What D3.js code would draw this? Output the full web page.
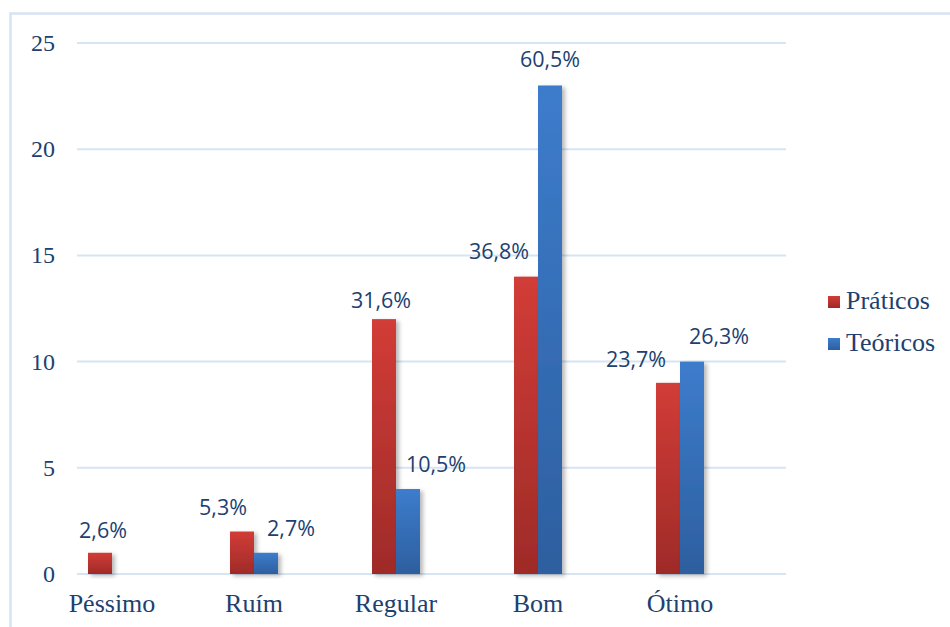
<!DOCTYPE html>
<html>
<head>
<meta charset="utf-8">
<script src="https://cdn.jsdelivr.net/npm/d3@7"></script>
</head>
<body style="margin:0">
<svg id="chart" width="950" height="627" font-family="Liberation Serif"></svg>
<script>
var categories = ["Péssimo", "Ruím", "Regular", "Bom", "Ótimo"];
var seriesNames = ["Práticos", "Teóricos"];
var praticos = [1, 2, 12, 14, 9];
var teoricos = [0, 1, 4, 23, 10];
var praticosLabels = ["2,6%", "5,3%", "31,6%", "36,8%", "23,7%"];
var teoricosLabels = [null, "2,7%", "10,5%", "60,5%", "26,3%"];
var yTicks = [0, 5, 10, 15, 20, 25];

// hand-placed label nudges (the labels were dragged around in the original)
var praticosNudge = [3, -19, -3, -27, -32];
var teoricosNudge = [0, 25, 28, 0, 27];
var praticosGap = [15, 17, 11, 18, 16];
var teoricosGap = [0, 17, 17, 18, 18];

var textColor = "#213f6f";
var gridColor = "#d6e4f4";

var svg = d3.select("#chart");

var defs = svg.append("defs");
function grad(id, top, bottom) {
  var g = defs.append("linearGradient").attr("id", id)
      .attr("x1", 0).attr("y1", 0).attr("x2", 0).attr("y2", 1);
  g.append("stop").attr("offset", "0%").attr("stop-color", top);
  g.append("stop").attr("offset", "100%").attr("stop-color", bottom);
}
grad("gRed", "#d23c37", "#9e2b28");
grad("gBlue", "#3d7ccc", "#2d5f9f");

var shadow = defs.append("filter").attr("id", "shadow")
    .attr("x", "-30%").attr("y", "-10%").attr("width", "160%").attr("height", "130%");
shadow.append("feDropShadow").attr("dx", 3).attr("dy", 2)
    .attr("stdDeviation", 2).attr("flood-color", "#000").attr("flood-opacity", 0.28);

// outer frame (right / bottom edges fall outside the picture)
svg.append("rect")
    .attr("x", 10.5).attr("y", 13.5)
    .attr("width", 1000).attr("height", 700)
    .attr("fill", "none").attr("stroke", gridColor).attr("stroke-width", 2.5);

var y = d3.scaleLinear().domain([0, 25]).range([574, 43]);
var x0 = d3.scaleBand().domain(categories).range([41, 751]);
var x1 = d3.scaleBand().domain(seriesNames).range([-24, 24]);

// gridlines
svg.append("g").selectAll("line")
  .data(yTicks).join("line")
    .attr("x1", 77).attr("x2", 786)
    .attr("y1", function(d) { return y(d); })
    .attr("y2", function(d) { return y(d); })
    .attr("stroke", gridColor).attr("stroke-width", 2);

// y tick labels
svg.selectAll("text.tick")
  .data(yTicks).join("text")
    .attr("class", "tick")
    .attr("x", 55)
    .attr("y", function(d) { return y(d) + 8; })
    .attr("text-anchor", "end")
    .attr("font-family", "Liberation Serif")
    .attr("font-size", 24)
    .attr("fill", textColor)
    .text(function(d) { return d; });

// category labels
svg.selectAll("text.cat")
  .data(categories).join("text")
    .attr("class", "cat")
    .attr("x", function(d) { return x0(d) + x0.bandwidth() / 2; })
    .attr("y", 612)
    .attr("text-anchor", "middle")
    .attr("font-family", "Liberation Serif")
    .attr("font-size", 26)
    .attr("fill", textColor)
    .text(function(d) { return d; });

var series = [
  { name: "Práticos", values: praticos, labels: praticosLabels, nudge: praticosNudge, gap: praticosGap, fill: "url(#gRed)" },
  { name: "Teóricos", values: teoricos, labels: teoricosLabels, nudge: teoricosNudge, gap: teoricosGap, fill: "url(#gBlue)" }
];

series.forEach(function(s, k) {
  var rows = categories.map(function(c, i) {
    return { cat: c, v: s.values[i], label: s.labels[i], nudge: s.nudge[i], gap: s.gap[i] };
  });
  var g = svg.append("g");
  g.selectAll("rect")
    .data(rows.filter(function(d) { return d.v > 0; })).join("rect")
      .attr("x", function(d) { return x0(d.cat) + x0.bandwidth() / 2 + x1(s.name); })
      .attr("y", function(d) { return y(d.v); })
      .attr("width", x1.bandwidth())
      .attr("height", function(d) { return y(0) - y(d.v); })
      .attr("fill", s.fill)
      .attr("filter", "url(#shadow)");
  svg.selectAll("text.lbl" + k)
    .data(rows.filter(function(d) { return d.label; })).join("text")
      .attr("class", "lbl" + k)
      .attr("x", function(d) { return x0(d.cat) + x0.bandwidth() / 2 + x1(s.name) + x1.bandwidth() / 2 + d.nudge; })
      .attr("y", function(d) { return y(d.v) - d.gap; })
      .attr("text-anchor", "middle")
      .attr("font-family", "Open Sans")
      .attr("font-size", 21.5)
      .attr("fill", textColor)
      .text(function(d) { return d.label; });
});

// legend
series.forEach(function(s, i) {
  svg.append("rect")
      .attr("x", 828).attr("y", 296 + i * 42)
      .attr("width", 12).attr("height", 12)
      .attr("fill", s.fill);
  svg.append("text")
      .attr("x", 846).attr("y", 309 + i * 42)
      .attr("font-family", "Liberation Serif")
      .attr("font-size", 26)
      .attr("fill", textColor)
      .text(s.name);
});
</script>
</body>
</html>
